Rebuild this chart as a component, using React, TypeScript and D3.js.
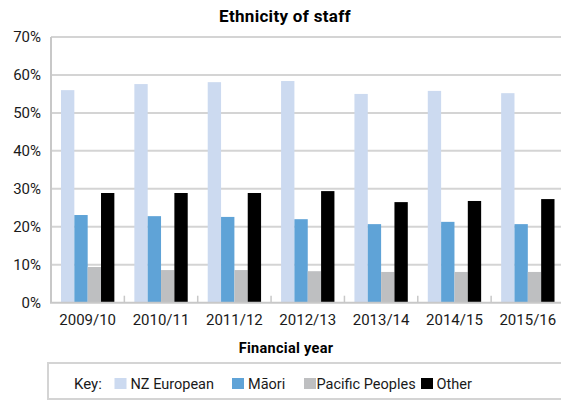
import React from "react";
import * as d3 from "d3";

const years = ["2009/10", "2010/11", "2011/12", "2012/13", "2013/14", "2014/15", "2015/16"];
const seriesNames = ["NZ European", "Māori", "Pacific Peoples", "Other"];
const nzEuropean = [56.0, 57.6, 58.1, 58.4, 55.0, 55.8, 55.2];
const maori = [23.1, 22.8, 22.6, 22.0, 20.7, 21.3, 20.7];
const pacific = [9.4, 8.6, 8.6, 8.3, 8.1, 8.1, 8.1];
const other = [28.9, 28.9, 28.9, 29.4, 26.5, 26.8, 27.3];
const yTicks = [0, 10, 20, 30, 40, 50, 60, 70];
const colors = ["#CCDAF0", "#5FA3D7", "#BEBFC1", "#000000"];

const seriesValues = [nzEuropean, maori, pacific, other];

const FONT = "Roboto, 'Noto Sans', sans-serif";

export default function App() {
  const left = 51;
  const right = 564.5;
  const top = 37;
  const bottom = 302.7;

  const x = d3.scaleBand<string>().domain(years).range([left, right]).padding(0);
  const step = x.bandwidth();
  const xs = d3.scaleBand<string>().domain(seriesNames).range([10, step - 10]).padding(0);
  const y = d3.scaleLinear().domain([0, 70]).range([bottom, top]);

  const legendItems = [
    { swatch: 114.5, text: 130.5 },
    { swatch: 232, text: 248 },
    { swatch: 304, text: 316.5 },
    { swatch: 421, text: 436.5 },
  ];

  return (
    <svg
      width={561}
      height={400}
      style={{ position: "absolute", left: 0, top: 0, display: "block", background: "#fff" }}
      fontFamily={FONT}
    >
      <rect x={0} y={0} width={561} height={400} fill="#fff" />
      <text x={285} y={22} textAnchor="middle" fontSize={17} fontWeight="bold" letterSpacing={0.3} fill="#000">
        Ethnicity of staff
      </text>

      {yTicks.map((t) => (
        <g key={t}>
          {t > 0 && (
            <line x1={left} x2={right} y1={y(t)} y2={y(t)} stroke="#D4D4D4" strokeWidth={2} />
          )}
          <text
            x={41}
            y={y(t)}
            dy="0.36em"
            textAnchor="end"
            fontSize={15}
            fill="#1a1a1a"
          >
            {t}%
          </text>
        </g>
      ))}

      {years.map((yr, i) => (
        <g key={yr}>
          {seriesNames.map((s, j) => {
            const v = seriesValues[j][i];
            return (
              <rect
                key={s}
                x={(x(yr) as number) + (xs(s) as number)}
                y={y(v)}
                width={xs.bandwidth()}
                height={y(0) - y(v)}
                fill={colors[j]}
              />
            );
          })}
          <text
            x={(x(yr) as number) + step / 2}
            y={325}
            textAnchor="middle"
            fontSize={15}
            fill="#1a1a1a"
          >
            {yr}
          </text>
        </g>
      ))}

      <line x1={left} x2={left} y1={top} y2={bottom} stroke="#C8C8C8" strokeWidth={2} />
      <line x1={left - 1} x2={right} y1={bottom} y2={bottom} stroke="#C8C8C8" strokeWidth={2} />
      {years.map((yr, i) => (
        <line
          key={"t" + yr}
          x1={(x(yr) as number) + step}
          x2={(x(yr) as number) + step}
          y1={bottom - 7}
          y2={bottom}
          stroke="#C8C8C8"
          strokeWidth={1.5}
        />
      ))}

      <text x={286} y={352.5} textAnchor="middle" fontSize={14.5} fontWeight="bold" letterSpacing={0.3} fill="#000">
        Financial year
      </text>

      <rect x={48} y={363} width={540} height={36} fill="#fff" stroke="#D4D4D4" strokeWidth={2} />
      <text x={74} y={389} fontSize={15} fill="#1a1a1a">
        Key:
      </text>
      {seriesNames.map((s, j) => (
        <g key={"l" + s}>
          <rect x={legendItems[j].swatch} y={378} width={12} height={11} fill={colors[j]} />
          <text x={legendItems[j].text} y={389} fontSize={14.5} fill="#1a1a1a">
            {s}
          </text>
        </g>
      ))}
    </svg>
  );
}
